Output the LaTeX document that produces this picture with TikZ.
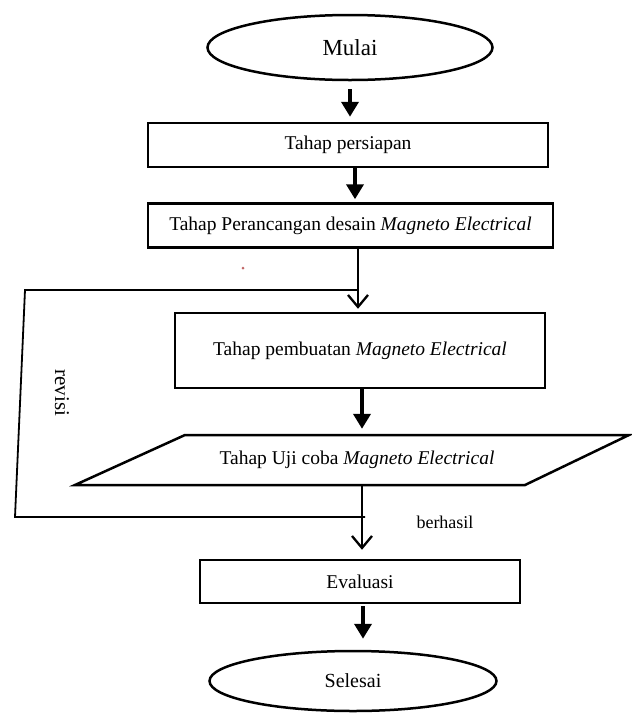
\documentclass[tikz,border=0pt]{standalone}
\usepackage{fontspec}
\setmainfont{Liberation Serif}
\usetikzlibrary{shapes.geometric,arrows.meta}
\begin{document}
\begin{tikzpicture}[x=1pt,y=-1pt,
  box/.style={draw,line width=2.5pt,rectangle,inner sep=0pt,font=\fontsize{19.5}{22}\selectfont},
  term/.style={draw,line width=2.5pt,ellipse,inner sep=0pt,font=\fontsize{20}{24}\selectfont},
  thickarrow/.style={line width=4pt,-{Triangle[length=15pt,width=17pt]}},
  thinarrow/.style={line width=2.3pt,-{Straight Barb[length=12pt,width=20pt,line width=2.3pt]}},
  fb/.style={line width=1.8pt},
  lbl/.style={inner sep=0pt,font=\fontsize{18}{22}\selectfont}]
\useasboundingbox (0,0) rectangle (632,713);
\fill[white] (0,0) rectangle (632,713);

\node[term,minimum width=285pt,minimum height=65pt,font=\fontsize{23}{26}\selectfont] (mulai) at (350,47.5) {Mulai};
\node[box,minimum width=400pt,minimum height=44pt] (persiapan) at (348,145) {Tahap persiapan};
\node[box,minimum width=405pt,minimum height=44pt] (perancangan) at (350.5,225.5) {Tahap Perancangan desain \textit{Magneto Electrical}};
\node[box,minimum width=370pt,minimum height=75pt] (pembuatan) at (360,350.5) {Tahap pembuatan \textit{Magneto Electrical}};

\coordinate (p1) at (185,435);
\coordinate (p2) at (629,435);
\coordinate (p3) at (525,485);
\coordinate (p4) at (75,485);
\draw[line width=2.5pt,line join=miter] (p1) -- (p2) -- (p3) -- (p4) -- cycle;
\node[inner sep=0pt,minimum height=50pt,font=\fontsize{19.5}{22}\selectfont] (uji) at (357,460) {Tahap Uji coba \textit{Magneto Electrical}};

\node[box,minimum width=320pt,minimum height=43pt] (evaluasi) at (360,581.5) {Evaluasi};
\node[term,minimum width=287pt,minimum height=60pt] (selesai) at (353,681) {Selesai};

% main flow arrows
\draw[thickarrow,shorten <=8pt,shorten >=5pt] (mulai.south) -- (mulai.south |- persiapan.north);
\draw[thickarrow,shorten >=3pt] ([xshift=7pt]persiapan.south) -- ([xshift=7pt]persiapan.south |- perancangan.north);
\draw[thinarrow,shorten >=3pt] ([xshift=7.5pt]perancangan.south) -- ([xshift=7.5pt]perancangan.south |- pembuatan.north);
\draw[thickarrow,shorten >=6pt] ([xshift=2pt]pembuatan.south) -- ([xshift=2pt]pembuatan.south |- uji.north);
\draw[thinarrow,shorten >=9pt] ([xshift=5pt]uji.south) -- ([xshift=5pt]uji.south |- evaluasi.north);
\draw[thickarrow,shorten <=2pt,shorten >=11pt] ([xshift=3pt]evaluasi.south) -- ([xshift=3pt]evaluasi.south |- selesai.north);

% feedback loop
\coordinate (fbA) at (365,517);
\coordinate (fbB) at (15,517);
\coordinate (fbC) at (25,290);
\coordinate (fbD) at (358,290);
\draw[fb] (fbA) -- (fbB) -- (fbC) -- (fbD);

\node[lbl,rotate=-90,font=\fontsize{21}{24}\selectfont] (revisi) at (62,393) {revisi};
\node[lbl] (berhasil) at (445,522) {berhasil};

\fill[red!60!black,opacity=0.6] (243,268) circle (1.5pt);
\end{tikzpicture}
\end{document}
